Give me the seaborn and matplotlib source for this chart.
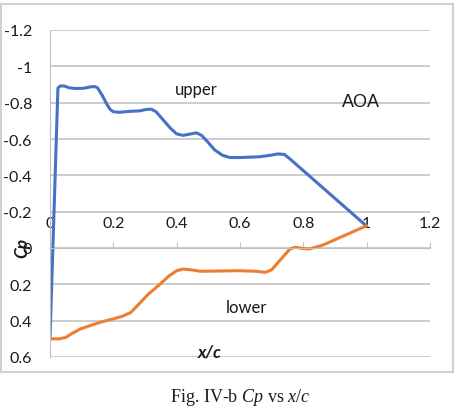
import matplotlib
matplotlib.use("Agg")
from matplotlib import pyplot as plt
from matplotlib.patches import Rectangle
import seaborn as sns

# pressure coefficient distribution
upper_x = [0.0, 0.025, 0.032, 0.045, 0.06, 0.08, 0.105, 0.125, 0.14, 0.15, 0.165, 0.18,
           0.19, 0.2, 0.22, 0.25, 0.284, 0.305, 0.32, 0.335, 0.36, 0.38, 0.4, 0.42,
           0.445, 0.463, 0.48, 0.5, 0.52, 0.545, 0.568, 0.6, 0.66, 0.695, 0.72, 0.74,
           0.758, 1.0]
upper_cp = [0.5, -0.88, -0.892, -0.892, -0.882, -0.878, -0.879, -0.886, -0.889, -0.882,
            -0.84, -0.79, -0.763, -0.75, -0.747, -0.752, -0.755, -0.763, -0.764, -0.75,
            -0.7, -0.66, -0.628, -0.62, -0.628, -0.634, -0.618, -0.58, -0.54, -0.51,
            -0.498, -0.498, -0.502, -0.51, -0.518, -0.515, -0.49, -0.12]
lower_x = [0.0, 0.03, 0.05, 0.07, 0.095, 0.13, 0.16, 0.2, 0.23, 0.255, 0.28, 0.31, 0.347,
           0.375, 0.4, 0.42, 0.445, 0.474, 0.52, 0.6, 0.65, 0.68, 0.7, 0.72, 0.74, 0.758,
           0.775, 0.8, 0.82, 0.84, 0.863, 1.0]
lower_cp = [0.5, 0.5, 0.492, 0.47, 0.446, 0.425, 0.408, 0.39, 0.375, 0.355, 0.31, 0.255,
            0.2, 0.155, 0.125, 0.116, 0.12, 0.128, 0.127, 0.125, 0.128, 0.134, 0.12, 0.08,
            0.04, 0.005, -0.004, 0.003, 0.005, -0.005, -0.017, -0.123]

y_ticks = [-1.2, -1.0, -0.8, -0.6, -0.4, -0.2, 0.0, 0.2, 0.4, 0.6]
y_labels = ["-1.2", "-1", "-0.8", "-0.6", "-0.4", "-0.2", "0", "0.2", "0.4", "0.6"]
x_ticks = [0.0, 0.2, 0.4, 0.6, 0.8, 1.0, 1.2]
x_labels = ["0", "0.2", "0.4", "0.6", "0.8", "1", "1.2"]

sns.set_style("white")
plt.rcParams["font.family"] = ["Lato", "DejaVu Sans"]
plt.rcParams["mathtext.fontset"] = "custom"
plt.rcParams["mathtext.rm"] = "Liberation Serif"
plt.rcParams["mathtext.it"] = "Liberation Serif:italic"

grey = "#BFBFBF"
ink = "#1A1A1A"
fig = plt.figure(figsize=(4.59, 4.10), dpi=100)
ax = fig.add_axes([50 / 459, 1 - 358 / 410, 380 / 459, 327 / 410])

sns.lineplot(x=upper_x, y=upper_cp, sort=False, estimator=None, color="#4472C4", lw=2.2,
             solid_joinstyle="round", ax=ax)
sns.lineplot(x=lower_x, y=lower_cp, sort=False, estimator=None, color="#ED7D31", lw=2.2,
             solid_joinstyle="round", ax=ax)

ax.set_xlim(0, 1.2)
ax.set_ylim(0.6, -1.2)
ax.set_yticks(y_ticks, y_labels)
ax.set_xticks(x_ticks, x_labels)
ax.yaxis.grid(True, color=grey, lw=1.1)
ax.xaxis.grid(False)

for side in ["right", "bottom"]:
    ax.spines[side].set_visible(False)
ax.spines["left"].set_color(grey)
ax.spines["top"].set_color(grey)
ax.spines["top"].set_position(("data", 0))
ax.xaxis.set_ticks_position("top")
ax.tick_params(axis="x", direction="out", length=4, color=grey, pad=9, labelsize=11.5, labelcolor=ink)
ax.tick_params(axis="y", direction="out", length=5, color=grey, pad=8, labelsize=11.5, labelcolor=ink)
ax.set_xlabel("")
ax.set_ylabel("")

ax.text(0.463, -0.876, "upper", fontsize=12, ha="center", va="center", color=ink)
ax.text(0.62, 0.325, "lower", fontsize=12, ha="center", va="center", color=ink)
ax.text(0.981, -0.807, "AOA", fontsize=13, ha="center", va="center", family="Liberation Sans", color=ink)
ax.text(0.505, 0.57, "x/c", fontsize=12.5, ha="center", va="center", fontweight="bold",
        fontstyle="italic", color=ink)
fig.text(22 / 459, 1 - 248 / 410, "Cp", rotation=90, fontsize=12.5, fontweight="bold",
         fontstyle="italic", ha="center", va="center", color=ink)

fig.add_artist(Rectangle((1 / 459, 1 - 373 / 410), 452 / 459, 368 / 410, transform=fig.transFigure,
                         fill=False, edgecolor="#D0D0D0", lw=1.5))
fig.text(240 / 459, 1 - 398 / 410, r"Fig. IV-b $Cp$ vs $x/c$", family="Liberation Serif",
         fontsize=13, ha="center", va="center", color=ink)

fig.savefig("out.png", dpi=100)
